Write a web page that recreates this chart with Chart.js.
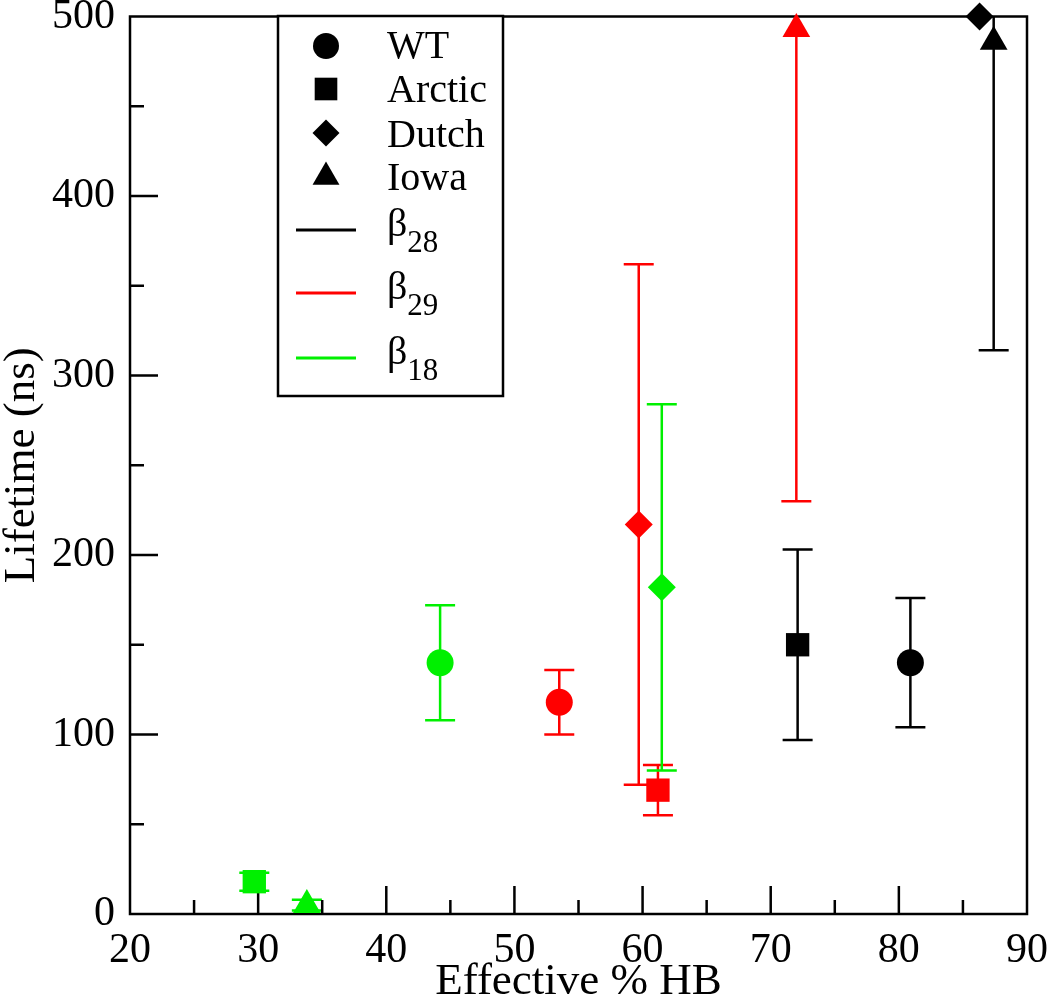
<!DOCTYPE html>
<html>
<head>
<meta charset="utf-8">
<script src="https://cdn.jsdelivr.net/npm/chart.js@4.4.1/dist/chart.umd.min.js"></script>
<style>
  body { margin: 0; background: #fff; }
  #wrap { width: 1050px; height: 1005px; position: relative; }
</style>
</head>
<body>
<div id="wrap"><canvas id="hbChart"></canvas></div>
<script>
// mutants (marker shapes) and strands (colours)
const mutants = ["WT", "Arctic", "Dutch", "Iowa"];
const shapes = ["circle", "rect", "rectRot", "triangle"];
const shapeSize = [13.5, 16.5, 14, 16];

const strands = ["28", "29", "18"];
const strandColors = ["#000000", "#ff0000", "#00f000"];

// effective % HB, lifetime (ns), error (ns) -- order: WT, Arctic, Dutch, Iowa
const b28HB = [80.9, 72.1, 86.3, 87.4];
const b28Life = [140, 150, 500, 486];
const b28Err = [36, 53, 0, 172];

const b29HB = [53.5, 61.2, 59.7, 72.0];
const b29Life = [118, 69, 217, 493];
const b29Err = [18, 14, 145, 263];

const b18HB = [44.2, 29.7, 61.5, 33.8];
const b18Life = [140, 18, 182, 5];
const b18Err = [32, 5, 102, 3];

const xTicks = [20, 30, 40, 50, 60, 70, 80, 90];
const yTicks = [0, 100, 200, 300, 400, 500];

const hbs = [b28HB, b29HB, b18HB];
const lifes = [b28Life, b29Life, b18Life];
const errs = [b28Err, b29Err, b18Err];

const FONT = "'Liberation Serif', 'Times New Roman', serif";

const datasets = strands.map((s, i) => ({
  label: "β" + s,
  data: hbs[i].map((x, j) => ({ x: x, y: lifes[i][j], err: errs[i][j] })),
  backgroundColor: strandColors[i],
  borderColor: strandColors[i],
  borderWidth: 0,
  pointStyle: shapes,
  pointRadius: shapeSize,
  pointHoverRadius: shapeSize,
  showLine: false,
  clip: false,
}));

// error bars, frame, inward ticks, legend box
const decor = {
  id: "decor",
  beforeDatasetsDraw(chart) {
    const { ctx, chartArea: a, scales: { x, y } } = chart;
    ctx.save();
    ctx.beginPath();
    ctx.rect(a.left, a.top, a.right - a.left, a.bottom - a.top);
    ctx.clip();
    ctx.lineWidth = 2.5;
    chart.data.datasets.forEach((ds) => {
      ctx.strokeStyle = ds.borderColor;
      ds.data.forEach((p) => {
        if (!p.err) return;
        const px = x.getPixelForValue(p.x);
        const top = y.getPixelForValue(p.y + p.err);
        const bot = y.getPixelForValue(p.y - p.err);
        ctx.beginPath();
        ctx.moveTo(px, top); ctx.lineTo(px, bot);
        ctx.moveTo(px - 15, top); ctx.lineTo(px + 15, top);
        ctx.moveTo(px - 15, bot); ctx.lineTo(px + 15, bot);
        ctx.stroke();
      });
    });
    ctx.restore();

    // frame + ticks pointing inward (bottom and left only)
    ctx.save();
    ctx.strokeStyle = "#000";
    ctx.lineWidth = 2.5;
    ctx.strokeRect(a.left, a.top, a.right - a.left, a.bottom - a.top);
    ctx.beginPath();
    for (let v = 25; v < 90; v += 5) {
      const px = x.getPixelForValue(v);
      const len = v % 10 === 0 ? 28 : 14;
      ctx.moveTo(px, a.bottom); ctx.lineTo(px, a.bottom - len);
    }
    for (let v = 50; v < 500; v += 50) {
      const py = y.getPixelForValue(v);
      const len = v % 100 === 0 ? 28 : 14;
      ctx.moveTo(a.left, py); ctx.lineTo(a.left + len, py);
    }
    ctx.stroke();
    ctx.restore();
  },
  afterDatasetsDraw(chart) {
    const { ctx } = chart;
    const box = { left: 278, top: 16, right: 503, bottom: 396 };
    ctx.save();
    ctx.fillStyle = "#fff";
    ctx.fillRect(box.left, box.top, box.right - box.left, box.bottom - box.top);
    ctx.strokeStyle = "#000";
    ctx.lineWidth = 2.5;
    ctx.strokeRect(box.left, box.top, box.right - box.left, box.bottom - box.top);

    const symX = 326, textX = 387;
    ctx.font = "40px " + FONT;
    ctx.textBaseline = "alphabetic";
    const symY = [46, 89, 133, 177];
    const textY = [58, 102, 147, 190];
    mutants.forEach((m, i) => {
      ctx.fillStyle = "#000";
      Chart.helpers.drawPoint(ctx, { pointStyle: shapes[i], radius: shapeSize[i] - 0.5, rotation: 0, borderWidth: 0 }, symX, symY[i]);
      ctx.fillText(m, textX, textY[i]);
    });

    const lineY = [230, 293, 358];
    strands.forEach((s, i) => {
      ctx.strokeStyle = strandColors[i];
      ctx.lineWidth = 3;
      ctx.beginPath();
      ctx.moveTo(296, lineY[i]); ctx.lineTo(356, lineY[i]);
      ctx.stroke();
      ctx.fillStyle = "#000";
      ctx.font = "40px " + FONT;
      ctx.fillText("β", textX, lineY[i] + 6);
      const w = ctx.measureText("β").width;
      ctx.font = "31px " + FONT;
      ctx.fillText(s, textX + w, lineY[i] + 22);
    });
    ctx.restore();
  },
};

new Chart(document.getElementById("hbChart"), {
  type: "scatter",
  data: { datasets: datasets },
  options: {
    responsive: true,
    maintainAspectRatio: false,
    animation: false,
    layout: { padding: { top: 16, right: 23, left: 0, bottom: 0 } },
    plugins: { legend: { display: false }, tooltip: { enabled: false } },
    scales: {
      x: {
        type: "linear",
        min: 20, max: 90,
        afterBuildTicks: (s) => { s.ticks = xTicks.map((v) => ({ value: v })); },
        afterFit: (s) => { s.height = 91; s.paddingLeft = 0; s.paddingRight = 0; },
        grid: { display: false, drawTicks: false },
        border: { display: false },
        ticks: { color: "#000", padding: 12, font: { family: FONT, size: 42 }, maxRotation: 0 },
        title: { display: true, text: "Effective % HB", color: "#000", padding: 0, font: { family: FONT, size: 45, lineHeight: 1 } },
      },
      y: {
        type: "linear",
        min: 0, max: 500,
        afterBuildTicks: (s) => { s.ticks = yTicks.map((v) => ({ value: v })); },
        afterFit: (s) => { s.width = 130; s.paddingTop = 0; s.paddingBottom = 0; },
        grid: { display: false, drawTicks: false },
        border: { display: false },
        ticks: { color: "#000", padding: 15, font: { family: FONT, size: 42 } },
        title: { display: true, text: "Lifetime (ns)", color: "#000", padding: 0, font: { family: FONT, size: 45, lineHeight: 1 } },
      },
    },
  },
  plugins: [decor],
});
</script>
</body>
</html>
